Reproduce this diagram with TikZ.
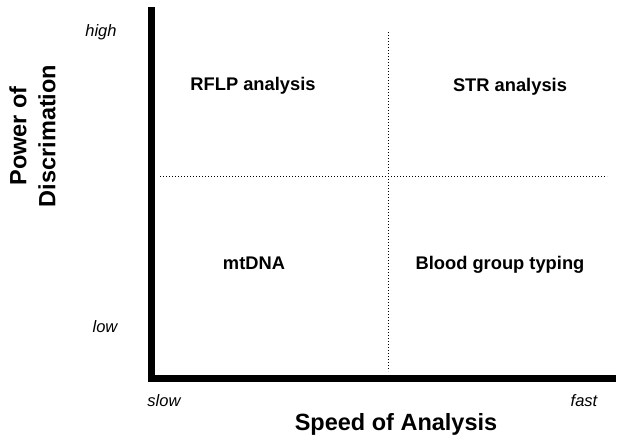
\documentclass[tikz,border=0pt]{standalone}
\usepackage{fontspec}
\setmainfont{Liberation Sans}
\usetikzlibrary{positioning}

\tikzset{
  axis/.style={line width=7pt,line cap=rect},
  grid/.style={dotted,line width=1pt},
  quad/.style={anchor=base,font=\bfseries\fontsize{18.3}{22}\selectfont},
  tick/.style={anchor=base,font=\itshape\fontsize{16.5}{20}\selectfont},
  title/.style={font=\bfseries\fontsize{23.5}{29}\selectfont,align=center}
}

\begin{document}
\begin{tikzpicture}[x=1pt,y=-1pt]
  \useasboundingbox (0,0) rectangle (633,437);
  % axes
  \coordinate (top) at (151.5,10);
  \coordinate (origin) at (151.5,378);
  \coordinate (right) at (612,378);
  \draw[axis] (top) -- (origin) -- (right);
  % quadrant lines
  \coordinate (hl) at (160,176);
  \coordinate (hr) at (607,176);
  \coordinate (vt) at (388,32);
  \coordinate (vb) at (388,371);
  \draw[grid] (hl) -- (hr);
  \draw[grid] (vt) -- (vb);
  % quadrant labels
  \node[quad] (rflp) at (253,90.7) {RFLP analysis};
  \node[quad] (str) at (510,91.7) {STR analysis};
  \node[quad] (mt) at (254,269.5) {mtDNA};
  \node[quad] (blood) at (500,269.5) {Blood group typing};
  % ticks
  \node[tick] (high) at (101,36.7) {high};
  \node[tick] (low) at (105,332) {low};
  \node[tick] (slow) at (164,406) {slow};
  \node[tick] (fast) at (584,406) {fast};
  % axis titles
  \node[title,anchor=base] (xlab) at (396,430) {Speed of Analysis};
  \node[title,rotate=90] (ylab) at (32.5,136) {Power of\\Discrimation};
\end{tikzpicture}
\end{document}
